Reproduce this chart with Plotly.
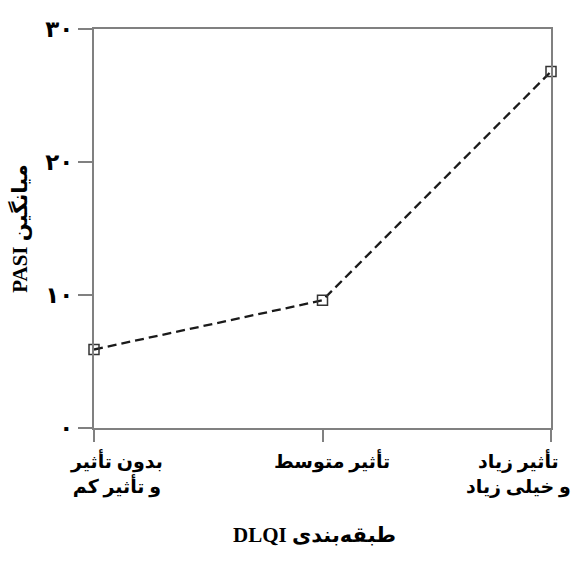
import plotly.graph_objects as go

categories = ["بدون تأثیر<br>و تأثیر کم", "تأثیر متوسط", "تأثیر زیاد<br>و خیلی زیاد"]
pasi_mean = [5.9, 9.6, 26.8]
y_tickvals = [0, 10, 20, 30]
y_ticktext = ["۰", "۱۰", "۲۰", "۳۰"]
x_title = "\u202bطبقه‌بندی DLQI\u202c"
y_title = "\u202bمیانگین PASI\u202c"
label_shift = [22, 9, -33]

FONT = "Liberation Serif, DejaVu Sans, serif"
AX = "#808080"

fig = go.Figure(go.Scatter(
    x=categories, y=pasi_mean, mode="lines+markers",
    line=dict(color="#1a1a1a", width=2.3, dash="9px,5px"),
    marker=dict(symbol="square-open", size=10, color="#333333", line=dict(width=1.5)),
    cliponaxis=False,
))

fig.update_layout(
    width=574, height=576,
    margin=dict(l=94, r=23, t=29, b=148),
    paper_bgcolor="white", plot_bgcolor="white",
    showlegend=False,
    font=dict(family=FONT, size=18, color="black"),
)
fig.update_xaxes(
    type="category", range=[0, 2], automargin=False,
    showgrid=False, zeroline=False, showticklabels=False,
    showline=True, linecolor=AX, linewidth=2, mirror=True,
    ticks="outside", ticklen=12, tickwidth=2, tickcolor=AX,
)
fig.update_yaxes(
    range=[0, 30], tickvals=y_tickvals, ticktext=y_ticktext, automargin=False,
    showgrid=False, zeroline=False,
    showline=True, linecolor=AX, linewidth=2, mirror=True,
    ticks="outside", ticklen=14, tickwidth=2, tickcolor=AX,
    tickfont=dict(family=FONT, size=23, color="black", weight="bold"),
    title=dict(text=y_title, standoff=12,
               font=dict(family=FONT, size=21, color="black", weight="bold")),
)

for cat, dx in zip(categories, label_shift):
    fig.add_annotation(
        x=cat, xref="x", y=0, yref="paper", yanchor="top", yshift=-19,
        xshift=dx, text=cat, showarrow=False, align="center",
        font=dict(family=FONT, size=19, color="black", weight="bold"),
    )
fig.add_annotation(
    x=0.5, xref="paper", y=0, yref="paper", yanchor="middle", yshift=-107,
    xshift=-8, text=x_title, showarrow=False,
    font=dict(family=FONT, size=21, color="black", weight="bold"),
)

fig.write_html("out.html", config={"displayModeBar": False},
               post_script="document.body.style.margin='0px';")
